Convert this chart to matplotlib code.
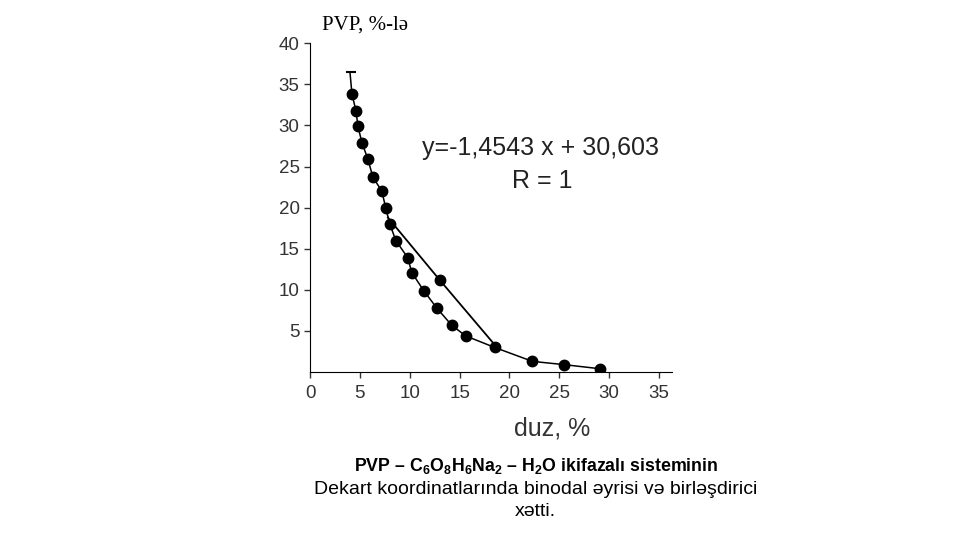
import matplotlib.pyplot as plt

plt.rcParams['font.family'] = ['Liberation Sans', 'DejaVu Sans']
plt.rcParams['mathtext.fontset'] = 'custom'
plt.rcParams['mathtext.rm'] = 'Liberation Sans:bold'
plt.rcParams['mathtext.default'] = 'rm'

# binodal curve points (duz %, PVP %)
duz = [4.2, 4.6, 4.8, 5.2, 5.8, 6.3, 7.2, 7.6, 8.0, 8.6, 9.8, 10.2,
       11.4, 12.7, 14.2, 15.6, 18.5, 22.3, 25.5, 29.1]
pvp = [33.8, 31.8, 29.9, 27.9, 25.9, 23.7, 22.0, 19.9, 18.0, 16.0, 13.9, 12.1,
       9.9, 7.8, 5.7, 4.4, 3.0, 1.3, 0.9, 0.4]

# upper end of the curve (no marker)
top_x = [4.0, 4.2]
top_y = [36.5, 33.8]

# tie line
tie_x = [7.8, 13.0, 18.6]
tie_y = [18.8, 11.2, 3.2]

xticks = [0, 5, 10, 15, 20, 25, 30, 35]
yticks = [5, 10, 15, 20, 25, 30, 35, 40]

fig = plt.figure(figsize=(9.6, 5.4), dpi=100)
ax = fig.add_axes([0.323, 0.311, 0.377, 0.609])

ax.plot(duz, pvp, color='black', lw=1.1, marker='o', ms=7.5,
        markerfacecolor='black', markeredgecolor='black')
ax.plot(top_x, top_y, color='black', lw=1.1)
ax.plot([3.7, 4.5], [36.5, 36.5], color='black', lw=1.5)
ax.plot(tie_x, tie_y, color='black', lw=1.3)
ax.plot(tie_x[1], tie_y[1], 'o', color='black', ms=7.5)

ax.set_xlim(0, 36.3)
ax.set_ylim(0, 40)
ax.set_xticks(xticks)
ax.set_yticks(yticks)
ax.spines['top'].set_visible(False)
ax.spines['right'].set_visible(False)
ax.tick_params(labelsize=13.5, colors='#333333', length=4, width=1)
ax.tick_params(axis='x', direction='out', pad=5)

ax.text(23.1, 27.2, 'y=-1,4543 x + 30,603', ha='center', va='center',
        fontsize=18, color='#222222')
ax.text(23.3, 23.2, 'R = 1', ha='center', va='center',
        fontsize=18, color='#222222')

fig.text(0.335, 0.953, 'PVP, %-lə', family=['Liberation Serif', 'DejaVu Serif'],
         fontsize=15, ha='left', va='center')
fig.text(0.575, 0.207, 'duz, %', fontsize=18, ha='center', va='center',
         color='#333333')

fig.text(0.558, 0.137, 'PVP – C$_6$O$_8$H$_6$Na$_2$ – H$_2$O ikifazalı sisteminin',
         fontsize=12.8, ha='center', va='center', fontweight='bold')
fig.text(0.558, 0.093, 'Dekart koordinatlarında binodal əyrisi və birləşdirici',
         fontsize=14, ha='center', va='center')
fig.text(0.558, 0.052, 'xətti.', fontsize=14, ha='center', va='center')

plt.savefig('out.png', dpi=100)
